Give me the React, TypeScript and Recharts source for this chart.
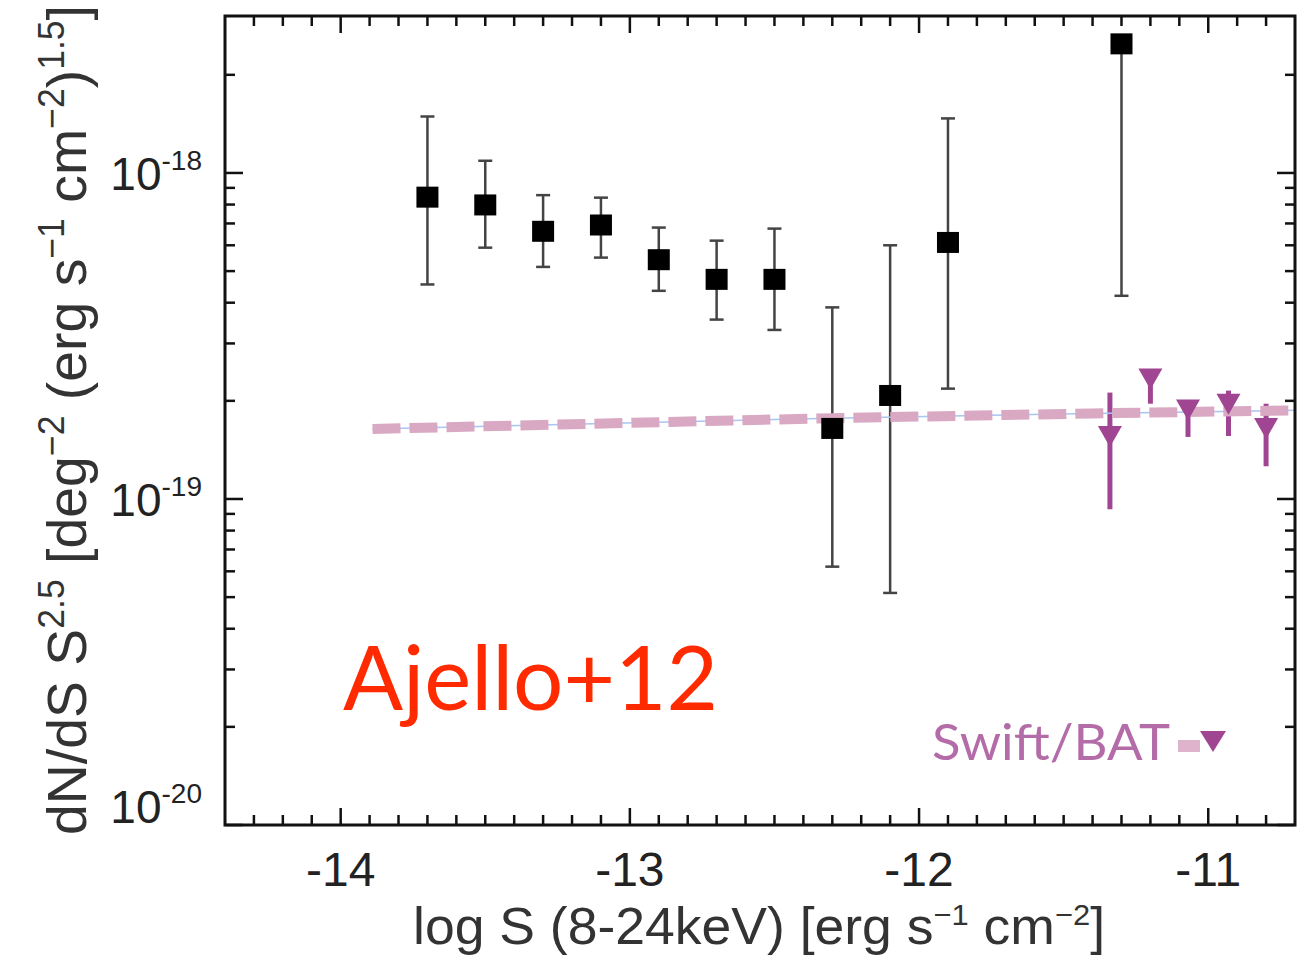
import React from 'react';
import { ComposedChart, Scatter, XAxis, YAxis, ErrorBar } from 'recharts';

const W = 1299;
const H = 956;
const PLOT_LEFT = 225;
const PLOT_RIGHT = 1295;
const PLOT_TOP = 16;
const PLOT_BOTTOM = 825;

// Ajello+12 points (black squares)
const ajelloLogS = [-13.7, -13.5, -13.3, -13.1, -12.9, -12.7, -12.5, -12.3, -12.1, -11.9, -11.3];
const ajelloValue = [8.4e-19, 7.95e-19, 6.6e-19, 6.9e-19, 5.4e-19, 4.7e-19, 4.7e-19, 1.64e-19, 2.07e-19, 6.1e-19, 2.48e-18];
const ajelloLower = [4.55e-19, 5.9e-19, 5.15e-19, 5.5e-19, 4.35e-19, 3.55e-19, 3.3e-19, 6.2e-20, 5.15e-20, 2.18e-19, 4.2e-19];
const ajelloUpper = [1.49e-18, 1.09e-18, 8.55e-19, 8.4e-19, 6.8e-19, 6.2e-19, 6.75e-19, 3.87e-19, 6.0e-19, 1.47e-18, 2.48e-18];

// Swift/BAT points (purple down triangles)
const batLogS = [-11.34, -11.2, -11.07, -10.93, -10.8];
const batValue = [1.56e-19, 2.34e-19, 1.88e-19, 1.96e-19, 1.65e-19];
const batLower = [9.3e-20, 1.96e-19, 1.55e-19, 1.56e-19, 1.26e-19];
const batUpper = [2.12e-19, 2.34e-19, 2.0e-19, 2.15e-19, 1.96e-19];

// Swift/BAT model band (pink dashed)
const modelLogS = [-13.89, -12.3, -11.4, -10.7];
const modelValue = [1.64e-19, 1.77e-19, 1.83e-19, 1.87e-19];

// Ticks
const xMajorTicks = [-14, -13, -12, -11];
const xTickStart = -14.3;
const xTickCount = 36;
const yMajorTicks = [1e-20, 1e-19, 1e-18];
const yMinorMantissas = [2, 3, 4, 5, 6, 7, 8, 9];
const yMajorLabels = ['-20', '-19', '-18'];

const xTicks: number[] = [];
for (let i = 0; i < xTickCount; i++) xTicks.push(Math.round((xTickStart + i * 0.1) * 10) / 10);
const yTicks: number[] = [];
yMajorTicks.forEach((d, i) => {
  yTicks.push(d);
  if (i < 2) yMinorMantissas.forEach((m) => yTicks.push(m * d));
  else yTicks.push(2 * d);
});

const ajelloData = ajelloLogS.map((x, i) => ({
  x,
  y: ajelloValue[i],
  err: [ajelloValue[i] - ajelloLower[i], ajelloUpper[i] - ajelloValue[i]],
}));
const batData = batLogS.map((x, i) => ({
  x,
  y: batValue[i],
  err: [batValue[i] - batLower[i], batUpper[i] - batValue[i]],
}));
const modelData = modelLogS.map((x, i) => ({ x, y: modelValue[i] }));

const FONT = '"Liberation Sans", Arial, Helvetica, sans-serif';
const GILL = 'Lato, "Open Sans", sans-serif';
const AXIS_COLOR = '#111';
const BAT_COLOR = '#a04592';

const XTick = (props: any) => {
  const { x, payload } = props;
  const v = payload.value;
  const major = xMajorTicks.some((m) => Math.abs(m - v) < 1e-6);
  const len = major ? 17 : 10;
  return (
    <g>
      <line x1={x} x2={x} y1={PLOT_BOTTOM} y2={PLOT_BOTTOM - len} stroke={AXIS_COLOR} strokeWidth={2.5} />
      <line x1={x} x2={x} y1={PLOT_TOP} y2={PLOT_TOP + len} stroke={AXIS_COLOR} strokeWidth={2.5} />
      {major && (
        <text x={x} y={886} textAnchor="middle" fontSize={48} fontFamily={FONT} fill="#222">
          {String(v)}
        </text>
      )}
    </g>
  );
};

const YTick = (props: any) => {
  const { y, payload } = props;
  const v = payload.value;
  const idx = yMajorTicks.findIndex((m) => Math.abs(m - v) / m < 1e-6);
  const major = idx >= 0;
  const len = major ? 18 : 10;
  const baseline = idx === 0 ? y - 2 : y + 17;
  return (
    <g>
      <line x1={PLOT_LEFT} x2={PLOT_LEFT + len} y1={y} y2={y} stroke={AXIS_COLOR} strokeWidth={2.5} />
      <line x1={PLOT_RIGHT} x2={PLOT_RIGHT - len} y1={y} y2={y} stroke={AXIS_COLOR} strokeWidth={2.5} />
      {major && (
        <text x={202} y={baseline} textAnchor="end" fontFamily={FONT} fill="#222">
          <tspan fontSize={46}>10</tspan>
          <tspan fontSize={28} dy={-20}>{yMajorLabels[idx]}</tspan>
        </text>
      )}
    </g>
  );
};

const Square = (props: any) => {
  const { cx, cy } = props;
  if (cx == null || cy == null) return <g />;
  return <rect x={cx - 11} y={cy - 11} width={22} height={21} fill="#000" />;
};

const DownTriangle = (props: any) => {
  const { cx, cy } = props;
  if (cx == null || cy == null) return <g />;
  return (
    <polygon
      points={`${cx - 12},${cy - 10} ${cx + 12},${cy - 10} ${cx},${cy + 11}`}
      fill={BAT_COLOR}
    />
  );
};

const NoShape = () => <g />;

export default function App() {
  return (
    <div style={{ position: 'absolute', left: 0, top: 0, width: W, height: H, background: '#fff' }}>
      <ComposedChart width={W} height={H} margin={{ top: PLOT_TOP, right: W - PLOT_RIGHT, bottom: 0, left: 0 }}>
        <XAxis
          type="number"
          dataKey="x"
          domain={[-14.4, -10.7]}
          allowDataOverflow
          ticks={xTicks}
          interval={0}
          tick={<XTick />}
          tickLine={false}
          axisLine={false}
          height={H - PLOT_BOTTOM}
        />
        <YAxis
          type="number"
          dataKey="y"
          scale="log"
          domain={[1e-20, 3.03e-18]}
          allowDataOverflow
          ticks={yTicks}
          interval={0}
          tick={<YTick />}
          tickLine={false}
          axisLine={false}
          width={PLOT_LEFT}
        />
        <Scatter
          data={modelData}
          isAnimationActive={false}
          shape={<NoShape />}
          line={{ stroke: '#a9c5f3', strokeWidth: 1.5 }}
        />
        <Scatter
          data={modelData}
          isAnimationActive={false}
          shape={<NoShape />}
          line={{ stroke: '#d9a8c2', strokeWidth: 10, strokeDasharray: '28 9' }}
        />
        <Scatter data={ajelloData} isAnimationActive={false} shape={<Square />} fill="#000">
          <ErrorBar dataKey="err" direction="y" width={7} stroke="#444" strokeWidth={2.5} />
        </Scatter>
        <Scatter data={batData} isAnimationActive={false} shape={<DownTriangle />} fill={BAT_COLOR}>
          <ErrorBar dataKey="err" direction="y" width={0} stroke={BAT_COLOR} strokeWidth={5} />
        </Scatter>
      </ComposedChart>
      <svg
        width={W}
        height={H}
        style={{ position: 'absolute', left: 0, top: 0, pointerEvents: 'none' }}
      >
        <rect
          x={PLOT_LEFT}
          y={PLOT_TOP}
          width={PLOT_RIGHT - PLOT_LEFT}
          height={PLOT_BOTTOM - PLOT_TOP}
          fill="none"
          stroke={AXIS_COLOR}
          strokeWidth={3}
        />
        <text
          x={759}
          y={944}
          textAnchor="middle"
          fontSize={52}
          fontFamily={FONT}
          fill="#333"
          textLength={692}
          lengthAdjust="spacingAndGlyphs"
        >
          log S (8-24keV) [erg s<tspan fontSize={30} dy={-19}>−1</tspan>
          <tspan dy={19}> cm</tspan>
          <tspan fontSize={30} dy={-19}>−2</tspan>
          <tspan dy={19}>]</tspan>
        </text>
        <text
          transform="translate(86,420) rotate(-90)"
          textAnchor="middle"
          fontSize={56}
          fontFamily={FONT}
          fill="#333"
          textLength={830}
          lengthAdjust="spacingAndGlyphs"
        >
          dN/dS S<tspan fontSize={36} dy={-22}>2.5</tspan>
          <tspan dy={22}> [deg</tspan>
          <tspan fontSize={36} dy={-22}>−2</tspan>
          <tspan dy={22}> (erg s</tspan>
          <tspan fontSize={36} dy={-22}>−1</tspan>
          <tspan dy={22}> cm</tspan>
          <tspan fontSize={36} dy={-22}>−2</tspan>
          <tspan dy={22}>)</tspan>
          <tspan fontSize={36} dy={-22}>1.5</tspan>
          <tspan dy={22}>]</tspan>
        </text>
        <text
          x={343}
          y={710}
          fontSize={90}
          fontFamily={GILL}
          fill="#ff2a00"
          textLength={375}
          lengthAdjust="spacingAndGlyphs"
        >
          Ajello+12
        </text>
        <text
          x={932}
          y={760}
          fontSize={50}
          fontFamily={GILL}
          fill="#b46ca8"
          textLength={238}
          lengthAdjust="spacingAndGlyphs"
        >
          Swift/BAT
        </text>
        <rect x={1178} y={740} width={22} height={12} fill="#e0b3cc" />
        <polygon points="1200,731 1226,731 1213,752" fill={BAT_COLOR} />
      </svg>
    </div>
  );
}
